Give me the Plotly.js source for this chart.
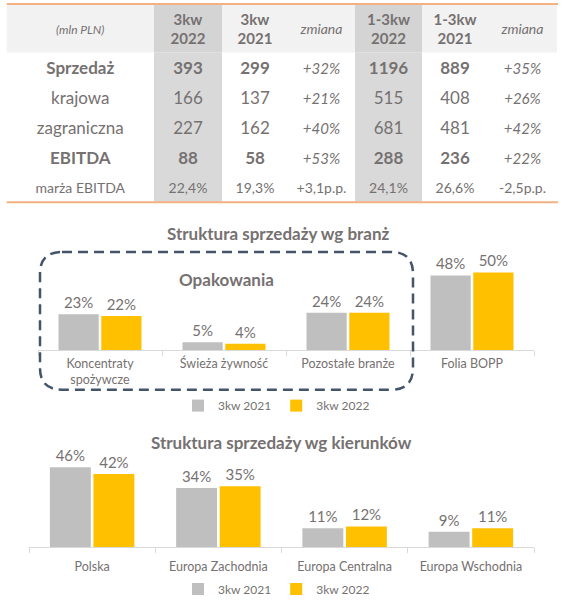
<!DOCTYPE html>
<html>
<head>
<meta charset="utf-8">
<script src="https://cdn.plot.ly/plotly-3.0.1.min.js"></script>
<style>
  html, body { margin: 0; padding: 0; background: #fff; }
  #chart { width: 563px; height: 604px; }
</style>
</head>
<body>
<div id="chart"></div>
<script>
// --- table data ---
const tableHeader = ["<i>(mln PLN)</i>", "<b>3kw<br>2022</b>", "<b>3kw<br>2021</b>", "<i>zmiana</i>",
                     "<b>1-3kw<br>2022</b>", "<b>1-3kw<br>2021</b>", "<i>zmiana</i>"];
const rowLabels = ["Sprzedaż", "krajowa", "zagraniczna", "EBITDA", "marża EBITDA"];
const q3_2022   = ["393", "166", "227", "88", "22,4%"];
const q3_2021   = ["299", "137", "162", "58", "19,3%"];
const q3Change  = ["+32%", "+21%", "+40%", "+53%", "+3,1p.p."];
const ytd2022   = ["1196", "515", "681", "288", "24,1%"];
const ytd2021   = ["889", "408", "481", "236", "26,6%"];
const ytdChange = ["+35%", "+26%", "+42%", "+22%", "-2,5p.p."];
const boldRows  = [true, false, false, true, false];

// --- bar chart data ---
const sectorCats = ["Koncentraty<br>spożywcze", "Świeża żywność", "Pozostałe branże", "Folia BOPP"];
const sector2021 = [23, 5, 24, 48];
const sector2022 = [22, 4, 24, 50];

const regionCats = ["Polska", "Europa Zachodnia", "Europa Centralna", "Europa Wschodnia"];
const region2021 = [46, 34, 11, 9];
const region2022 = [42, 35, 12, 11];

const seriesNames = ["3kw 2021", "3kw 2022"];

// --- style ---
const W = 563, H = 604;
const TXT = "#767171";
const GREY = "#bfbfbf", GOLD = "#ffc000";
const FONT = "Lato, 'Noto Sans', sans-serif";
const px = x => x / W;
const py = y => 1 - y / H;

// table geometry (x3/y3 axes are in table pixels)
const colWidths = [147.5, 68, 66, 67, 67, 66, 69];
const darkCols = [1, 4];
const tblTop = 5, headH = 48, rowH = 30.2, tblBottom = tblTop + headH + 5 * rowH;
const colStart = colWidths.map((w, i) => colWidths.slice(0, i).reduce((a, b) => a + b, 0));
const colCenter = colStart.map((s, i) => s + colWidths[i] / 2);
const tblWidth = colWidths.reduce((a, b) => a + b, 0);
const headY = tblTop + headH / 2 + 2;
const rowY = boldRows.map((_, i) => tblTop + headH + rowH * (i + 0.5) + 2.5);

const bold = (col) => col.map((v, i) => boldRows[i] ? `<b>${v}</b>` : v);
const ital = (col) => col.map((v, i) => i < 4 ? `<i>${v}</i>` : v);

const columns = [bold(rowLabels), bold(q3_2022), bold(q3_2021), ital(q3Change),
                 bold(ytd2022), bold(ytd2021), ital(ytdChange)];
const headSize = [12, 15, 15, 14, 15, 15, 14];
const bodySize = [17, 17, 17, 17, 14];
const chgSize  = [15, 15, 15, 15, 14];

const tableTraces = columns.map((vals, c) => ({
    type: "scatter",
    mode: "text",
    xaxis: "x3",
    yaxis: "y3",
    x: [colCenter[c], ...vals.map(() => colCenter[c])],
    y: [headY, ...rowY],
    text: [tableHeader[c], ...vals],
    textposition: "middle center",
    textfont: { family: FONT, color: TXT,
                size: [headSize[c], ...(c === 3 || c === 6 ? chgSize : bodySize)] },
    showlegend: false,
    hoverinfo: "skip",
    cliponaxis: false,
}));

function barPair(cats, v21, v22, xa, ya, legend) {
    return [[v21, GREY], [v22, GOLD]].map(([vals, color], i) => ({
        type: "bar",
        name: seriesNames[i],
        x: cats,
        y: vals,
        xaxis: xa,
        yaxis: ya,
        legend,
        marker: { color },
        text: vals.map(v => v + "%"),
        textposition: "outside",
        cliponaxis: false,
        textfont: { family: FONT, size: 15, color: TXT },
        hoverinfo: "skip",
    }));
}

const catAxis = {
    showline: true,
    linecolor: "#d9d9d9",
    linewidth: 1,
    ticks: "outside",
    tickson: "boundaries",
    ticklen: 5,
    tickcolor: "#d9d9d9",
    showgrid: false,
    tickfont: { family: FONT, size: 12.5, color: TXT },
    fixedrange: true,
};
const valAxis = { visible: false, fixedrange: true, showgrid: false, zeroline: false };

// dashed rounded box around packaging categories
const bx0 = 40, bx1 = 413, by0 = 254, by1 = 393, r = 22;
const boxPath = [
    `M${px(bx0 + r)},${py(by0)}`,
    `L${px(bx1 - r)},${py(by0)}`,
    `Q${px(bx1)},${py(by0)} ${px(bx1)},${py(by0 + r)}`,
    `L${px(bx1)},${py(by1 - r)}`,
    `Q${px(bx1)},${py(by1)} ${px(bx1 - r)},${py(by1)}`,
    `L${px(bx0 + r)},${py(by1)}`,
    `Q${px(bx0)},${py(by1)} ${px(bx0)},${py(by1 - r)}`,
    `L${px(bx0)},${py(by0 + r)}`,
    `Q${px(bx0)},${py(by0)} ${px(bx0 + r)},${py(by0)}Z`,
].join(" ");

const tableShapes = [
    { type: "rect", xref: "x3", yref: "y3", layer: "below", x0: 0, x1: tblWidth, y0: tblTop, y1: tblTop + headH,
      fillcolor: "#f2f2f2", line: { width: 0 } },
    ...darkCols.flatMap(c => [
        { type: "rect", xref: "x3", yref: "y3", layer: "below",
          x0: colStart[c], x1: colStart[c] + colWidths[c], y0: tblTop, y1: tblTop + headH,
          fillcolor: "#d4d4d4", line: { width: 0 } },
        { type: "rect", xref: "x3", yref: "y3", layer: "below",
          x0: colStart[c], x1: colStart[c] + colWidths[c], y0: tblTop + headH, y1: tblBottom,
          fillcolor: "#d9d9d9", line: { width: 0 } },
    ]),
    { type: "line", xref: "x3", yref: "y3", x0: 0, x1: tblWidth + 1, y0: tblTop - 1, y1: tblTop - 1,
      line: { color: "#f4b183", width: 2 } },
    { type: "line", xref: "x3", yref: "y3", x0: 0, x1: tblWidth + 1, y0: tblBottom, y1: tblBottom,
      line: { color: "#f4b183", width: 2 } },
];

const legendBase = {
    orientation: "h", x: 0.5 - 5 / W, xanchor: "center", yanchor: "middle",
    font: { family: FONT, size: 12, color: TXT },
    itemwidth: 30,
    bgcolor: "rgba(0,0,0,0)",
};

const title = (x, y, text, size) => ({
    xref: "paper", yref: "paper", x: px(x), y: py(y), xanchor: "center", yanchor: "middle",
    text: `<b>${text}</b>`, showarrow: false, font: { family: FONT, size, color: TXT },
});

const layout = {
    width: W,
    height: H,
    margin: { t: 0, b: 0, l: 0, r: 0 },
    paper_bgcolor: "#ffffff",
    plot_bgcolor: "rgba(0,0,0,0)",
    font: { family: FONT, color: TXT },
    barmode: "group",
    bargap: 0.31,
    bargroupgap: 0.06,
    xaxis:  { ...catAxis, domain: [px(38), px(534)], anchor: "y", ticklabelstandoff: 2 },
    yaxis:  { ...valAxis, domain: [py(353), py(259)], range: [0, 60], anchor: "x" },
    xaxis2: { ...catAxis, domain: [px(29), px(534)], anchor: "y2", ticklabelstandoff: 8 },
    yaxis2: { ...valAxis, domain: [py(552), py(464)], range: [0, 50], anchor: "x2" },
    xaxis3: { ...valAxis, domain: [px(6.5), px(6.5 + tblWidth + 2)], range: [0, tblWidth + 2], anchor: "y3" },
    yaxis3: { ...valAxis, domain: [py(tblBottom + 3), py(tblTop - 3)], range: [tblBottom + 3, tblTop - 3], anchor: "x3" },
    legend:  { ...legendBase, y: py(409) },
    legend2: { ...legendBase, y: py(594) },
    shapes: [
        ...tableShapes,
        { type: "path", xref: "paper", yref: "paper", path: boxPath,
          line: { color: "#44546a", width: 2.5, dash: "10px,6px" } },
    ],
    annotations: [
        title(278, 235, "Struktura sprzedaży wg branż", 17),
        title(226, 282, "Opakowania", 17),
        title(281, 446, "Struktura sprzedaży wg kierunków", 17),
    ],
};

const data = [
    ...tableTraces,
    ...barPair(sectorCats, sector2021, sector2022, "x", "y", "legend"),
    ...barPair(regionCats, region2021, region2022, "x2", "y2", "legend2"),
];

Plotly.newPlot("chart", data, layout, { displayModeBar: false, staticPlot: true });
</script>
</body>
</html>
